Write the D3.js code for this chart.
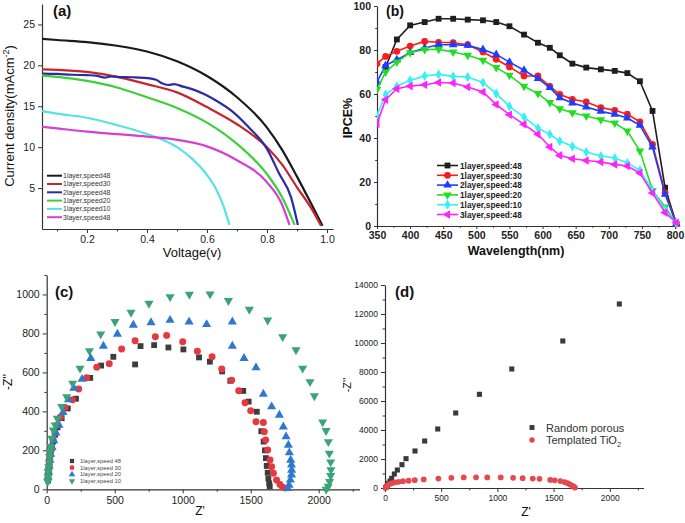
<!DOCTYPE html>
<html><head><meta charset="utf-8">
<script src="https://cdn.jsdelivr.net/npm/d3@7"></script>
<style>body{margin:0;background:#fff} text{font-family:Arial,'Liberation Sans',sans-serif}</style>
</head><body><svg id="chart" width="685" height="523"></svg>
<script>
// ---------- Panel (a): J-V curves ----------
const aSeriesNames = ["1layer,speed48","1layer,speed30","2layer,speed48","1layer,speed20","1layer,speed10","3layer,speed48"];
const aXTicks = [0.2,0.4,0.6,0.8,1.0];
const aYTicks = [5,10,15,20,25];
const aBlack = [[0.05,23.25],[0.1,23.1],[0.2,22.85],[0.3,22.4],[0.4,21.7],[0.5,20.5],[0.6,18.7],[0.7,16.1],[0.8,12.4],[0.85,9.7],[0.9,6.4],[0.95,2.9],[0.985,0.4]];
const aRed = [[0.05,19.5],[0.1,19.45],[0.2,19.2],[0.3,18.6],[0.4,17.7],[0.5,16.7],[0.6,14.9],[0.7,12.8],[0.8,10.0],[0.85,7.9],[0.9,5.1],[0.95,2.4],[0.98,0.4]];
const aBlue = [[0.05,19.0],[0.1,18.95],[0.15,18.85],[0.2,18.8],[0.23,18.75],[0.26,18.5],[0.28,18.65],[0.3,18.6],[0.35,18.55],[0.4,18.45],[0.43,18.25],[0.45,17.8],[0.47,17.6],[0.49,17.7],[0.52,17.4],[0.55,17.1],[0.59,16.5],[0.63,15.7],[0.69,14.2],[0.74,12.4],[0.8,9.8],[0.84,6.8],[0.88,3.9],[0.903,0.5]];
const aGreen = [[0.05,18.75],[0.1,18.6],[0.2,18.1],[0.3,17.3],[0.4,16.1],[0.5,14.8],[0.6,13.0],[0.7,10.4],[0.8,6.7],[0.85,3.9],[0.892,0.5]];
const aCyan = [[0.05,14.4],[0.1,14.1],[0.2,13.6],[0.3,12.7],[0.4,11.6],[0.5,10.0],[0.55,8.6],[0.6,6.6],[0.63,4.9],[0.655,2.8],[0.675,0.5]];
const aMagenta = [[0.05,12.5],[0.1,12.3],[0.2,11.9],[0.3,11.6],[0.4,11.3],[0.5,10.9],[0.6,10.1],[0.7,8.4],[0.8,5.7],[0.85,3.0],[0.875,0.5]];
const aColors = ["#1a1a1a","#c4262c","#2b2ba3","#3ccf3c","#55e3e3","#d63fd6"];

// ---------- Panel (b): IPCE ----------
const bSeriesNames = ["1layer,speed:48","1layer,speed:30","2layer,speed:48","1layer,speed:20","1layer,speed:10","3layer,speed:48"];
const bWavelength = [350,363,380,400,422,443,465,487,510,530,550,572,593,611,626,645,666,688,709,728,747,766,785,802];
const bBlack = [null,72.3,84.8,91.2,92.7,94.2,94.2,93.8,93.5,92.7,90.8,87,83.3,81,77.6,73.8,72,71.2,70.5,69.5,65.8,52.3,17.4,1];
const bRed = [73.8,77.1,79.4,81.8,83.9,83.5,83.3,82.4,79.1,75.8,72.3,68.2,68.2,63.5,59.8,57.6,56.4,53.8,52.6,50.8,47.3,37.1,15.2,1];
const bBlue = [65.5,73,75.6,78.8,80.9,82.4,82.4,82.1,80.2,78,74.5,70.8,67,62.9,58.3,55.9,54.1,52.1,50.8,49.1,45.8,35.9,14.4,1];
const bGreen = [62,70,74.5,78.8,80.2,80.3,79.1,77.6,75.3,72,68.5,63.5,60.2,56.1,53.3,51.5,50,48.3,46.8,43.2,34.1,16.2,8.6,1];
const bCyan = [50.3,59.7,63.5,66.2,68.2,68.9,68,67.7,65.2,60.2,54.4,49.5,44.5,41.7,38.6,36.2,33.6,31.8,30.9,28.6,25.3,16.2,7.4,1.4];
const bMagenta = [46.5,57.4,62.4,63.6,64.2,65.2,65,63.2,60.9,55.2,50.6,46.2,41.7,35.9,32.1,30.6,29.8,29.1,28,27.3,24.1,15,6.1,1.5];
const bXTicks = [350,400,450,500,550,600,650,700,750,800];
const bYTicks = [0,20,40,60,80,100];
const bColors = ["#1e1e1e","#ff1a1a","#1c3cff","#22dd22","#33f2f2","#ff22ff"];

// ---------- Panel (c): Nyquist ----------
const cSeriesNames = ["1layer,speed 48","1layer,speed 30","1layer,speed 20","1layer,speed 10"];
const cBlack = [[10,45],[13,70],[16,95],[20,120],[24,150],[30,180],[38,210],[48,245],[62,280],[80,318],[110,365],[155,415],[215,465],[320,572],[400,635],[490,680],[650,641],[690,735],[790,740],[895,728],[1005,718],[1120,677],[1200,655],[1290,605],[1350,557],[1445,505],[1485,450],[1545,398],[1578,298],[1595,245],[1605,200],[1612,160],[1618,120],[1625,85],[1630,55],[1636,30],[1640,15]];
const cRed = [[8,55],[11,80],[14,105],[18,130],[22,160],[28,190],[36,220],[46,255],[60,290],[78,330],[100,370],[135,420],[190,460],[235,515],[294,573],[368,626],[460,645],[551,720],[650,762],[799,783],[882,790],[1000,757],[1108,709],[1216,680],[1287,618],[1360,560],[1412,506],[1458,444],[1500,403],[1539,347],[1593,343],[1600,296],[1610,253],[1625,202],[1642,150],[1654,116],[1667,82],[1690,48],[1715,25],[1735,10]];
const cBlue = [[10,60],[14,90],[18,120],[24,150],[30,180],[40,215],[52,250],[68,290],[90,330],[120,395],[160,460],[200,520],[260,565],[324,672],[417,735],[520,797],[637,843],[767,856],[907,868],[1047,860],[1176,846],[1365,860],[1365,735],[1451,672],[1539,624],[1593,489],[1654,424],[1711,381],[1740,321],[1760,270],[1777,227],[1784,188],[1794,150],[1800,125],[1801,99],[1800,74],[1792,48],[1782,22],[1772,5]];
const cGreen = [[8,40],[10,65],[12,90],[15,115],[18,140],[21,168],[25,195],[30,219],[37,262],[49,304],[62,330],[78,364],[110,424],[147,475],[191,544],[245,621],[314,711],[397,797],[502,860],[620,908],[752,954],[907,988],[1049,1000],[1201,1002],[1336,968],[1490,923],[1625,868],[1735,783],[1833,715],[1882,621],[1936,552],[1968,479],[2029,345],[2054,301],[2071,244],[2078,185],[2088,140],[2090,100],[2088,70],[2080,40],[2070,15],[2055,0]];
const cXTicks = [0,500,1000,1500,2000];
const cYTicks = [0,200,400,600,800,1000];
const cColors = ["#3d3d3d","#e5393f","#2f78d0","#3aa378"];

// ---------- Panel (d): Nyquist comparison ----------
const dSeriesNames = ["Random porous","Templated TiO"];
const dRandom = [[6,23],[12,92],[21,184],[30,322],[45,483],[59,667],[83,966],[110,1241],[151,1609],[187,2023],[267,2552],[353,3241],[469,4069],[629,5172],[840,6460],[1128,8207],[1582,10138],[2085,12690]];
const dTemplated = [[5,20],[12,80],[20,150],[30,220],[45,290],[65,340],[90,390],[120,430],[160,470],[210,500],[265,540],[345,590],[475,650],[590,700],[700,730],[810,735],[910,730],[1030,725],[1140,700],[1225,680],[1315,650],[1375,630],[1470,560],[1510,530],[1560,480],[1600,400],[1625,330],[1645,250],[1665,170],[1680,90],[1690,30]];
const dXTicks = [0,500,1000,1500,2000];
const dYTicks = [0,2000,4000,6000,8000,10000,12000,14000];
const dColors = ["#3a3a3a","#e5484d"];

const svg = d3.select("#chart");
const axisColor = "#333";

function styleAxis(g, fs, weight){
  g.select(".domain").attr("stroke", axisColor).attr("stroke-width", 1.2);
  g.selectAll(".tick line").attr("stroke", axisColor).attr("stroke-width", 1);
  g.selectAll("text").attr("font-size", fs).attr("font-weight", weight || "normal")
   .attr("fill", "#222").attr("font-family", "Arial,'Liberation Sans',sans-serif");
}
function drawAxes(x, y, opt){
  const g = svg.append("g");
  const y0 = y.range()[0], x0 = x.range()[0];
  const gx = g.append("g").attr("transform", `translate(0,${y0})`)
    .call(d3.axisBottom(x).tickValues(opt.xt).tickSize(opt.ts).tickSizeOuter(0).tickPadding(opt.pad||2).tickFormat(opt.xf || d3.format("")));
  styleAxis(gx, opt.fs, opt.fw);
  if (opt.xm) {
    const gm = g.append("g").attr("transform", `translate(0,${y0})`)
      .call(d3.axisBottom(x).tickValues(opt.xm).tickSize(opt.ts*0.6).tickSizeOuter(0).tickFormat(""));
    gm.select(".domain").remove(); gm.selectAll("line").attr("stroke", axisColor);
  }
  const gy = g.append("g").attr("transform", `translate(${x0},0)`)
    .call(d3.axisLeft(y).tickValues(opt.yt).tickSize(opt.ts).tickSizeOuter(0).tickPadding(opt.pad||2).tickFormat(opt.yf || d3.format("")));
  styleAxis(gy, opt.fs, opt.fw);
  if (opt.ym) {
    const gm = g.append("g").attr("transform", `translate(${x0},0)`)
      .call(d3.axisLeft(y).tickValues(opt.ym).tickSize(opt.ts*0.6).tickSizeOuter(0).tickFormat(""));
    gm.select(".domain").remove(); gm.selectAll("line").attr("stroke", axisColor);
  }
}
function label(txt, x, y, fs, fw, rot, anchor){
  const t = svg.append("text").attr("x", 0).attr("y", 0)
    .attr("transform", `translate(${x},${y})` + (rot ? ` rotate(${rot})` : ""))
    .attr("font-size", fs).attr("font-weight", fw || "normal").attr("fill", "#111")
    .attr("text-anchor", anchor || "middle").text(txt);
  return t;
}
const downTri = { draw(ctx, size){ const s = Math.sqrt(size/ (Math.sqrt(3)/4)) ; const h = s*Math.sqrt(3)/2;
  ctx.moveTo(-s/2, -h/3); ctx.lineTo(s/2, -h/3); ctx.lineTo(0, 2*h/3); ctx.closePath(); } };
const leftTri = { draw(ctx, size){ const s = Math.sqrt(size/ (Math.sqrt(3)/4)) ; const h = s*Math.sqrt(3)/2;
  ctx.moveTo(h/3, -s/2); ctx.lineTo(h/3, s/2); ctx.lineTo(-2*h/3, 0); ctx.closePath(); } };

// ===== Panel A =====
const xA = d3.scaleLinear().domain([0.05,1.02]).range([42,333]);
const yA = d3.scaleLinear().domain([0,27.5]).range([229,4]);
drawAxes(xA, yA, {xt:aXTicks, yt:aYTicks, xm:[0.1,0.3,0.5,0.7,0.9], ts:4, fs:10.5, pad:3, xf:d3.format(".1f")});
const lineA = d3.line().x(d=>xA(d[0])).y(d=>yA(d[1])).curve(d3.curveMonotoneX);
[aBlack,aRed,aBlue,aGreen,aCyan,aMagenta].forEach((s,i)=>{
  svg.append("path").attr("d", lineA(s)).attr("fill","none").attr("stroke",aColors[i]).attr("stroke-width",2.2);
});
aSeriesNames.forEach((n,i)=>{
  const yy = 175.7 + 8.3*i;
  svg.append("line").attr("x1",47).attr("x2",62).attr("y1",yy).attr("y2",yy).attr("stroke",aColors[i]).attr("stroke-width",2);
  svg.append("text").attr("x",63).attr("y",yy+2.4).attr("font-size",7).attr("fill","#333").text(n);
});
label("(a)", 53, 16, 15, "bold", 0, "start");
const ylA = label("", 14, 116, 13, "normal", -90);
ylA.append("tspan").text("Current density(mAcm");
ylA.append("tspan").attr("dy",-5).attr("font-size",9).text("-2");
ylA.append("tspan").attr("dy",5).text(")");
label("Voltage(v)", 192, 257, 13);

// ===== Panel B =====
const xB = d3.scaleLinear().domain([350,806]).range([377,679]);
const yB = d3.scaleLinear().domain([0,100]).range([226,6]);
drawAxes(xB, yB, {xt:bXTicks, yt:bYTicks, xm:[375,425,475,525,575,625,675,725,775], ym:[10,30,50,70,90], ts:3, fs:10.5, fw:"bold", pad:3});
svg.append("clipPath").attr("id","clipB").append("rect").attr("x",377).attr("y",0).attr("width",310).attr("height",232);
const gB = svg.append("g").attr("clip-path","url(#clipB)");
const bSymbols = [d3.symbolSquare, d3.symbolCircle, d3.symbolTriangle, downTri, d3.symbolDiamond, leftTri];
const bSizes = [34, 36, 32, 32, 30, 32];
[bBlack,bRed,bBlue,bGreen,bCyan,bMagenta].forEach((s,i)=>{
  const pts = bWavelength.map((w,j)=>[w,s[j]]).filter(p=>p[1]!==null);
  const ln = d3.line().x(d=>xB(d[0])).y(d=>yB(d[1]));
  gB.append("path").attr("d", ln(pts)).attr("fill","none").attr("stroke",bColors[i]).attr("stroke-width",1.6);
  gB.selectAll(null).data(pts).enter().append("path")
    .attr("transform", d=>`translate(${xB(d[0])},${yB(d[1])})`)
    .attr("d", d3.symbol().type(bSymbols[i]).size(bSizes[i])).attr("fill", bColors[i]);
});
bSeriesNames.forEach((n,i)=>{
  const yy = 165.5 + 9.8*i;
  svg.append("line").attr("x1",437).attr("x2",458).attr("y1",yy).attr("y2",yy).attr("stroke",bColors[i]).attr("stroke-width",1.6);
  svg.append("path").attr("transform",`translate(447.5,${yy})`).attr("d", d3.symbol().type(bSymbols[i]).size(bSizes[i])).attr("fill",bColors[i]);
  svg.append("text").attr("x",460).attr("y",yy+3.2).attr("font-size",8.3).attr("font-weight","bold").attr("fill","#222").text(n);
});
label("(b)", 386, 16, 14, "bold", 0, "start");
label("IPCE%", 352, 118, 12.5, "bold", -90);
label("Wavelength(nm)", 516, 255, 12.5, "bold");

// ===== Panel C =====
const xC = d3.scaleLinear().domain([0,2300]).range([46.7,359.5]);
const yC = d3.scaleLinear().domain([0,1100]).range([489.3,275]);
drawAxes(xC, yC, {xt:cXTicks, yt:cYTicks, xm:[250,750,1250,1750,2250], ym:[100,300,500,700,900,1100], ts:4, fs:10.5, pad:3});
const cSymbols = [d3.symbolSquare, d3.symbolCircle, d3.symbolTriangle, downTri];
const cSizes = [34, 38, 36, 36];
[cBlack,cRed,cBlue,cGreen].forEach((s,i)=>{
  svg.append("g").selectAll("path").data(s).enter().append("path")
    .attr("transform", d=>`translate(${xC(d[0])},${yC(d[1])})`)
    .attr("d", d3.symbol().type(cSymbols[i]).size(cSizes[i])).attr("fill", cColors[i]);
});
cSeriesNames.forEach((n,i)=>{
  const yy = 461 + 6.7*i;
  svg.append("path").attr("transform",`translate(72,${yy})`).attr("d", d3.symbol().type(cSymbols[i]).size(18)).attr("fill",cColors[i]);
  svg.append("text").attr("x",80).attr("y",yy+2).attr("font-size",5.8).attr("fill","#444").text(n);
});
label("(c)", 55, 297, 15, "bold", 0, "start");
label("-Z''", 12, 382, 12, "normal", -90);
label("Z'", 200, 515, 12);

// ===== Panel D =====
const xD = d3.scaleLinear().domain([0,2300]).range([385,643.5]);
const yD = d3.scaleLinear().domain([0,14000]).range([488,285]);
drawAxes(xD, yD, {xt:dXTicks, yt:dYTicks, xm:[250,750,1250,1750,2250], ym:[1000,3000,5000,7000,9000,11000,13000], ts:4, fs:8.5, pad:3});
svg.append("g").selectAll("path").data(dRandom).enter().append("path")
  .attr("transform", d=>`translate(${xD(d[0])},${yD(d[1])})`)
  .attr("d", d3.symbol().type(d3.symbolSquare).size(26)).attr("fill", dColors[0]);
svg.append("g").selectAll("path").data(dTemplated).enter().append("path")
  .attr("transform", d=>`translate(${xD(d[0])},${yD(d[1])})`)
  .attr("d", d3.symbol().type(d3.symbolCircle).size(26)).attr("fill", dColors[1]);
svg.append("path").attr("transform","translate(532,427.5)").attr("d", d3.symbol().type(d3.symbolSquare).size(24)).attr("fill",dColors[0]);
svg.append("text").attr("x",546).attr("y",431.5).attr("font-size",11).attr("fill","#333").text(dSeriesNames[0]);
svg.append("path").attr("transform","translate(532,440)").attr("d", d3.symbol().type(d3.symbolCircle).size(24)).attr("fill",dColors[1]);
const tD = svg.append("text").attr("x",546).attr("y",444).attr("font-size",11).attr("fill","#333");
tD.append("tspan").text(dSeriesNames[1]);
tD.append("tspan").attr("dy",3).attr("font-size",7.5).text("2");
label("(d)", 395, 297, 15, "bold", 0, "start");
label("-Z''", 351, 385, 11, "normal", -90);
label("Z'", 526, 516, 12);
</script></body></html>
